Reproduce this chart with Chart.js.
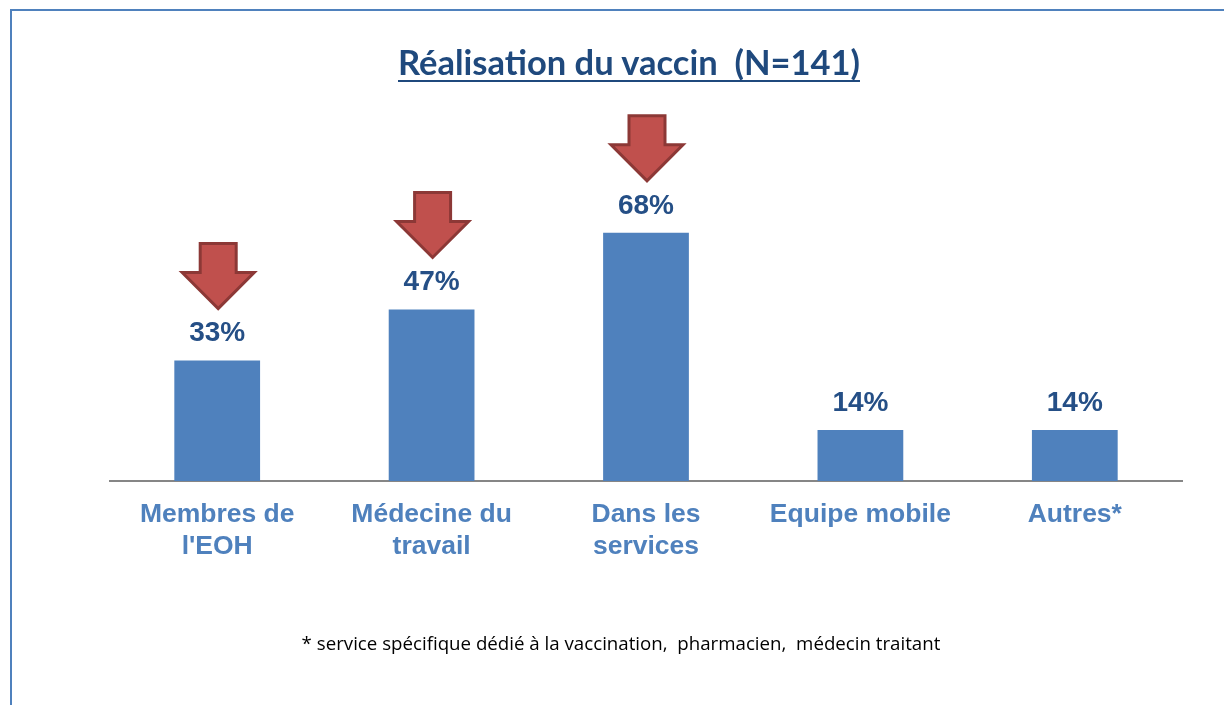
<!DOCTYPE html>
<html><head><meta charset="utf-8">
<script src="https://cdn.jsdelivr.net/npm/chart.js@4/dist/chart.umd.min.js"></script>
<style>
html,body{margin:0;padding:0;background:#fff;}
#wrap{position:relative;width:1224px;height:705px;overflow:hidden;}
#frame{position:absolute;left:10px;top:9px;width:1300px;height:800px;border-left:2px solid #4F81BD;border-top:2px solid #4F81BD;}
#title{position:absolute;left:0;width:1258px;top:41px;text-align:center;font:bold 34.5px Lato, "Open Sans", sans-serif;color:#1F497D;}
#title span{text-decoration:underline;text-decoration-thickness:2px;text-underline-offset:5px;white-space:pre;}
#note{position:absolute;left:0;width:1242px;top:630px;text-align:center;font:18.7px "Open Sans", Lato, sans-serif;color:#000;white-space:pre;}
canvas{position:absolute;left:0;top:0;}
</style></head>
<body><div id="wrap">
<div id="frame"></div>
<canvas id="c" width="1224" height="705"></canvas>
<div id="title"><span>Réalisation du vaccin  (N=141)</span></div>
<div id="note">* service spécifique dédié à la vaccination,  pharmacien,  médecin traitant</div>
</div>
<script>
const categories = [["Membres de","l'EOH"],["Médecine du","travail"],["Dans les","services"],["Equipe mobile"],["Autres*"]];
const values = [33, 47, 68, 14, 14];
const valueLabels = ["33%","47%","68%","14%","14%"];
const highlighted = [true, true, true, false, false];

const overlay = {
  id:'overlay',
  afterDatasetsDraw(chart){
    const ctx = chart.ctx;
    const meta = chart.getDatasetMeta(0);
    meta.data.forEach((bar,i)=>{
      const x = bar.x, top = bar.y;
      ctx.save();
      ctx.font = 'bold 28px "Liberation Sans", Arial, sans-serif';
      ctx.fillStyle = '#254F86';
      ctx.textAlign = 'center';
      ctx.textBaseline = 'middle';
      ctx.fillText(valueLabels[i], x, top - 27);
      if (highlighted[i]) {
        const ax = x + 1, y0 = top - 117, yh = top - 88, yt = top - 52;
        ctx.beginPath();
        ctx.moveTo(ax-18, y0); ctx.lineTo(ax+18, y0); ctx.lineTo(ax+18, yh);
        ctx.lineTo(ax+36, yh); ctx.lineTo(ax, yt); ctx.lineTo(ax-36, yh);
        ctx.lineTo(ax-18, yh); ctx.closePath();
        ctx.fillStyle = '#C0504D';
        ctx.fill();
        ctx.lineWidth = 3;
        ctx.lineJoin = 'miter';
        ctx.strokeStyle = '#8C3836';
        ctx.stroke();
      }
      ctx.restore();
    });
  }
};

new Chart(document.getElementById('c'), {
  type:'bar',
  data:{ labels: categories, datasets:[{ data: values, backgroundColor:'#4F81BD', barPercentage:0.4, categoryPercentage:1 }]},
  options:{
    responsive:false, animation:false, devicePixelRatio:1,
    layout:{ padding:{ left:110, right:42, top:116, bottom:0 } },
    plugins:{ legend:{display:false}, tooltip:{enabled:false}, title:{display:false} },
    scales:{
      y:{ display:false, min:0, max:100 },
      x:{
        grid:{ display:false, drawTicks:false },
        border:{ display:true, color:'#868686', width:2 },
        ticks:{ color:'#4F81BD', font:{ family:'"Liberation Sans", Arial, sans-serif', size:26.5, weight:'bold', lineHeight:1.2 }, padding:18, autoSkip:false, maxRotation:0 },
        afterFit(s){ s.height = 224; }
      }
    }
  },
  plugins:[overlay]
});
</script>
</body></html>
